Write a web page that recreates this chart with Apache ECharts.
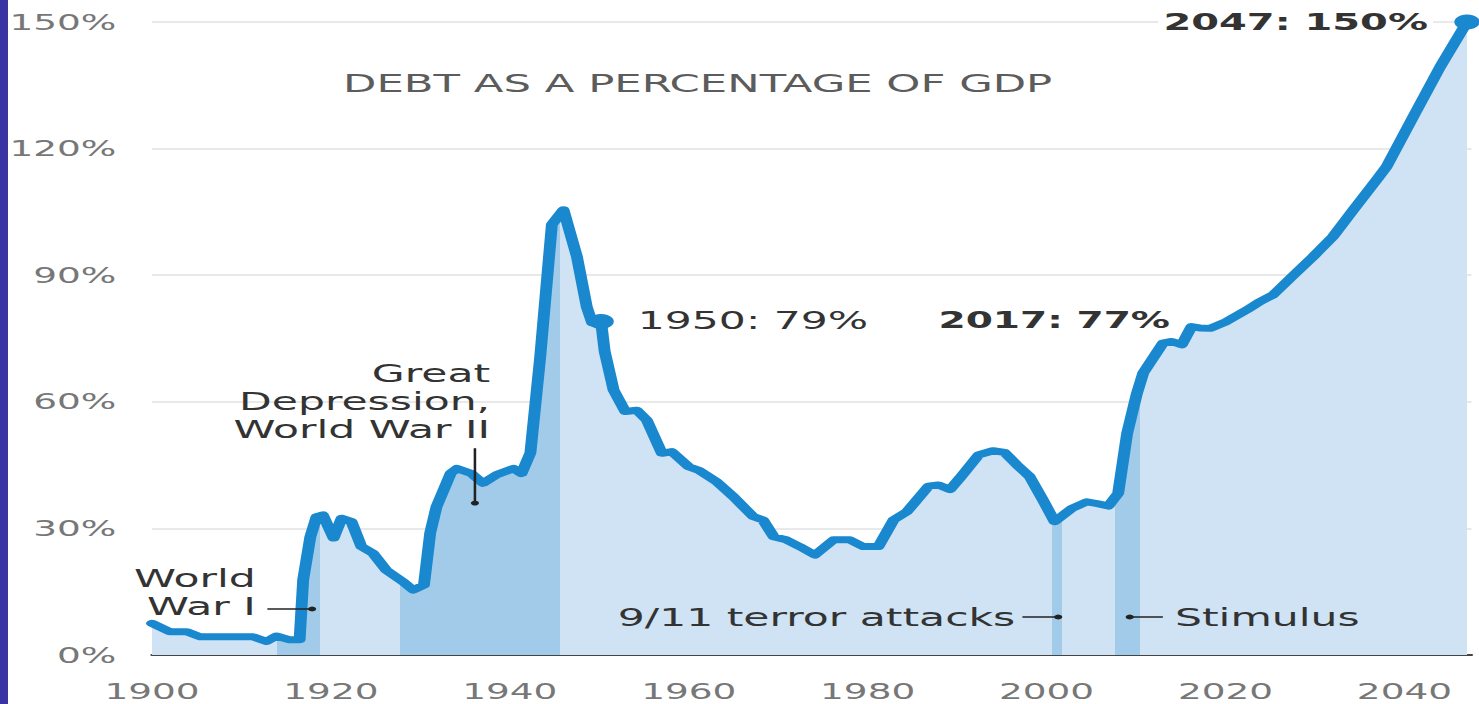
<!DOCTYPE html>
<html>
<head>
<meta charset="utf-8">
<script src="https://cdn.jsdelivr.net/npm/echarts@6.0.0/dist/echarts.min.js"></script>
<style>
  html, body { margin: 0; padding: 0; background: #fff; overflow: hidden; }
  #wrap { position: absolute; left: 0; top: 0; width: 870px; height: 704px; transform: scaleX(1.7); transform-origin: 0 0; }
</style>
</head>
<body>
<div id="wrap"></div>
<script>
// ---------- DATA ----------
const years = [1900,1902,1903.9,1905.4,1911.3,1912.8,1913.9,1915.4,1916.5,1916.9,1917.7,1918.4,1919.1,1920.3,1921.2,1922.3,1923.4,1924.7,1926.2,1928.1,1929.2,1930.4,1931.1,1931.8,1933.4,1934.1,1935.7,1937,1938.5,1940.4,1941.3,1942.3,1943.4,1944.7,1946,1947.5,1948.6,1949.2,1950.2,1950.6,1951.6,1952.9,1954.2,1955.3,1957,1958.1,1960,1961.1,1963.1,1965,1967.2,1968.3,1969.5,1970.9,1972.4,1974.1,1976.2,1978,1979.5,1981.2,1982.9,1984.4,1986.8,1987.9,1989.2,1990.3,1992.4,1994,1995.3,1996.7,1998.1,1999.6,2000.9,2002.8,2004.5,2005.6,2006.9,2008,2009,2010.1,2010.8,2013,2014,2015.1,2016.2,2017.1,2018.3,2020.1,2022.4,2023.8,2025.3,2027.6,2029.8,2032,2034.3,2036.9,2038,2041,2044,2047];
const debtPct = [7.5,5.5,5.5,4.3,4.3,3.2,4.5,3.6,3.6,17.8,28,32.8,33.2,27.7,32.4,31.6,25.7,24.1,20.1,17.3,15.4,16.6,28.9,35.1,43.1,44.2,43,40.7,42.7,44.2,43,47.9,70.7,102,105.5,94.4,82.5,78.7,79,72,62.8,57.7,58,55.7,47.8,48.2,44.6,43.8,41.1,37.5,32.8,32,28,27.3,25.7,23.7,27.3,27.3,25.7,25.7,32,34,40,40.3,39.2,41.9,47.4,48.4,48,45,42.3,36.7,31.6,34.7,36.3,35.9,35.3,38.3,52.5,62,66.8,73.9,74.3,73.5,77.8,77.5,77.4,79,81.8,83.7,85.3,90,94.4,99.1,105.5,112.6,115.7,127.6,139.4,150];
// shaded event periods [start, end]
const bandStarts = [1914.0, 1927.7, 2000.6, 2007.6];
const bandEnds   = [1918.8, 1945.6, 2001.7, 2010.4];
// highlighted points
const calloutYears = [1950.2, 2047];
const calloutPct   = [79, 150];
const xTicks = [1900, 1920, 1940, 1960, 1980, 2000, 2020, 2040];
const yTicks = [0, 30, 60, 90, 120, 150];
const titleText = 'DEBT AS A PERCENTAGE OF GDP';
const noteTexts = ['1950: 79%', '2017: 77%', '2047: 150%', 'World\nWar I', 'Great\nDepression,\nWorld War II', '9/11 terror attacks', 'Stimulus'];

// ---------- STYLE ----------
const LINE = '#1a88ce', LIGHT = '#cfe3f4', DARK = '#a2cbea';
const FONT = 'DejaVu Sans';

const x0 = years[0], x1 = years[years.length - 1];
const stops = [];
bandStarts.forEach((s, i) => {
  const a = (s - x0) / (x1 - x0), b = (bandEnds[i] - x0) / (x1 - x0);
  stops.push({offset: a, color: LIGHT}, {offset: a, color: DARK}, {offset: b, color: DARK}, {offset: b, color: LIGHT});
});
const gradStops = [{offset: 0, color: LIGHT}].concat(stops).concat([{offset: 1, color: LIGHT}]);

const chart = echarts.init(document.getElementById('wrap'), null, {renderer: 'svg'});
chart.setOption({
  animation: false,
  grid: {left: 89.4, right: 4.4, top: 22, bottom: 49, containLabel: false, outerBoundsMode: 'none'},
  xAxis: {
    type: 'value', min: 1900, max: 2047.5, interval: 20,
    axisLine: {show: true, onZero: false, lineStyle: {color: '#444', width: 2}},
    axisTick: {show: false},
    splitLine: {show: false},
    axisLabel: {
      showMaxLabel: false, margin: 25, color: '#777', fontSize: 22, fontFamily: FONT,
      formatter: v => xTicks.indexOf(v) >= 0 ? String(v) : ''
    }
  },
  yAxis: {
    type: 'value', min: 0, max: 150, interval: 30,
    axisLine: {show: false}, axisTick: {show: false},
    splitLine: {show: true, lineStyle: {color: '#e2e2e2', width: 1.5}},
    axisLabel: {
      margin: 21, color: '#777', fontSize: 22, fontFamily: FONT,
      formatter: v => yTicks.indexOf(v) >= 0 ? v + '%' : ''
    }
  },
  series: [
    {
      type: 'line', name: 'Debt', z: 3,
      data: years.map((y, i) => [y, debtPct[i]]),
      symbol: 'none',
      lineStyle: {color: LINE, width: 7, join: 'round', cap: 'round'},
      areaStyle: {opacity: 1, color: new echarts.graphic.LinearGradient(0, 0, 1, 0, gradStops)}
    },
    {
      type: 'scatter', z: 5,
      data: calloutYears.map((y, i) => [y, calloutPct[i]]),
      symbol: 'circle', symbolSize: 15,
      itemStyle: {color: LINE, opacity: 1}
    }
  ]
});

// ---------- ANNOTATIONS (positioned in data space) ----------
const px = (p) => chart.convertToPixel({gridIndex: 0}, p);
const textSpecs = [
  {t: titleText, at: [1961, 135.5], align: 'center', size: 25.5, weight: 'normal', color: '#5c5c5c'},
  {t: noteTexts[0], at: [1954.3, 79.4], align: 'left', size: 25, weight: 'normal', color: '#333'},
  {t: noteTexts[1], at: [2013.8, 79.4], align: 'right', size: 23, weight: 'bold', color: '#333'},
  {t: noteTexts[2], at: [2043.2, 150], align: 'right', size: 23.5, weight: 'bold', color: '#333', bg: true},
  {t: noteTexts[3], at: [1911.6, 14.9], align: 'right', size: 25, weight: 'normal', color: '#333'},
  {t: noteTexts[4], at: [1937.8, 60], align: 'right', size: 25, weight: 'normal', color: '#333'},
  {t: noteTexts[5], at: [1996.5, 9], align: 'right', size: 25, weight: 'normal', color: '#333'},
  {t: noteTexts[6], at: [2014.35, 9], align: 'left', size: 25, weight: 'normal', color: '#333'}
];
const pointerSpecs = [
  {from: [1912.9, 10.9], to: [1917.9, 10.9]},
  {from: [1936.1, 49], to: [1936.1, 36]},
  {from: [1997.3, 9], to: [2001.3, 9]},
  {from: [2013.0, 9], to: [2009.3, 9]}
];
const elements = [];
elements.push({type: 'rect', z: 200, shape: {x: 0, y: 0, width: 4.7, height: 704}, style: {fill: '#3a33a3'}});
textSpecs.forEach(s => {
  const p = px(s.at);
  const st = {
    text: s.t, x: p[0], y: p[1], fill: s.color, fontSize: s.size, fontFamily: FONT,
    fontWeight: s.weight, align: s.align, verticalAlign: 'middle', lineHeight: 28
  };
  if (s.bg) { st.backgroundColor = '#fff'; st.padding = [0, 3]; }
  elements.push({type: 'text', z: 100, style: st});
});
pointerSpecs.forEach(s => {
  const a = px(s.from), b = px(s.to);
  elements.push({type: 'line', z: 100, shape: {x1: a[0], y1: a[1], x2: b[0], y2: b[1]}, style: {stroke: '#222', lineWidth: 1.5}});
  elements.push({type: 'circle', z: 100, shape: {cx: b[0], cy: b[1], r: 2.4}, style: {fill: '#222'}});
});
chart.setOption({graphic: {elements: elements}});
</script>
</body>
</html>
